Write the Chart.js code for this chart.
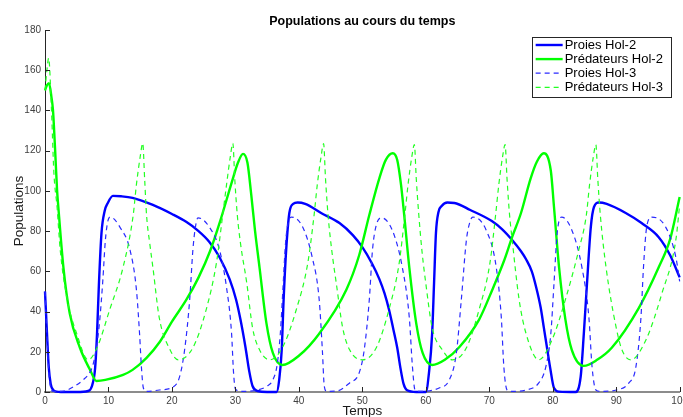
<!DOCTYPE html>
<html>
<head>
<meta charset="utf-8">
<script src="https://cdn.jsdelivr.net/npm/chart.js@4/dist/chart.umd.min.js"></script>
<style>
  html, body { margin: 0; padding: 0; background: #fff; }
  #wrap { width: 683px; height: 417px; overflow: hidden; position: relative; }
  canvas { display: block; }
</style>
</head>
<body>
<div id="wrap"><canvas id="chart" width="691" height="417"></canvas></div>
<script>
// Proies Hol-2 (trait plein bleu)
const tPreyH2 = [0, 0.3, 0.6, 0.9, 1.3, 1.8, 2.5, 5, 6.8, 7.4, 7.9, 8.2, 8.5, 8.9, 9.4, 9.9, 10.7, 12, 13.8, 17,
  20, 22.3, 24, 25.9, 27.5, 29.1, 30.1, 30.8, 31.6, 32.2, 32.7, 33.5, 35, 36.5, 36.9, 37.3, 37.6, 38.0, 38.5, 39.1,
  39.8, 41, 43.5, 46.4, 48.5, 50, 51.5, 52.7, 53.5, 54.2, 54.9, 55.5, 56.0, 56.5, 57.0, 58.5, 60, 60.5, 61.0, 61.3,
  61.6, 62.0, 62.5, 63.4, 64.5, 67, 70.4, 72, 73.6, 75, 75.8, 76.7, 77.4, 78.1, 78.6, 79.1, 79.6, 80.2, 81, 83.6,
  84.4, 84.9, 85.4, 86.0, 86.5, 87.3, 88.5, 91.5, 94, 96.7, 98.5, 100];
const preyH2 = [50, 30, 12, 4, 1, 0.2, 0, 0, 0.5, 3, 12, 29, 54, 79, 90, 94, 97.5, 97.3, 96.5, 93,
  88.5, 84.5, 80.5, 74.6, 67, 56, 46, 36, 22, 10, 3, 0.5, 0, 0, 6, 21, 46, 70.6, 89, 93.5,
  94.2, 93.5, 89, 84, 78, 72, 64, 56, 49, 41, 31, 22, 12, 4, 1, 0, 0, 9.5, 29, 54,
  79, 89.5, 92.5, 94.2, 94, 90.5, 85, 81, 75.6, 70, 66, 60, 52, 42, 32, 22, 12, 2, 0.2, 0,
  7.5, 29, 54, 82, 92, 94.2, 93.5, 89, 84, 77, 68, 57];

// Prédateurs Hol-2 (trait plein vert)
const tPredH2 = [0, 0.3, 0.63, 1.0, 1.26, 1.6, 1.9, 2.1, 2.9, 3.9, 5.5, 7.1, 8.1, 9.5, 12.3, 13.8, 16, 18.1, 20, 22.3,
  24.2, 26, 27.7, 29.4, 30.4, 31.2, 31.9, 32.5, 33.1, 33.8, 34.9, 35.9, 37.4, 40, 43.2, 47.5, 49.5, 51.1, 52.7, 53.7,
  54.8, 55.5, 56.1, 56.6, 57.4, 58.5, 59.5, 61, 63, 65.3, 68.4, 70.5, 72.3, 73.6, 75.0, 76.5, 77.5, 78.6, 79.7, 80.2,
  81.0, 82.0, 83.0, 84.9, 87, 89.3, 93.6, 96.7, 98.5, 100];
const predH2 = [150, 152.5, 153.6, 147, 140, 120, 100.5, 92, 62, 39, 22, 11, 5.5, 6, 8.5, 11, 17, 25, 35, 46,
  57, 70, 86, 104, 114, 118.4, 114, 98, 80, 62, 34, 19.4, 13.4, 18, 29, 51, 68, 88, 106.5, 115.4,
  118.7, 115.4, 103, 88, 62, 34, 19.4, 13.4, 16, 22.4, 36, 51, 65, 77, 89, 106, 114.5, 118.7, 110, 92,
  62, 36, 21, 13, 16, 22, 42, 62, 76, 97];

// Proies Hol-3 (tirets bleus)
const tPreyH3 = [0, 0.3, 0.6, 0.9, 1.3, 3, 4.5, 6, 7.1, 7.6, 8.1, 8.6, 9.1, 9.5, 9.9, 10.3, 11.8, 13.4, 14.4, 14.9,
  15.2, 15.5, 16, 18, 20.2, 21.2, 22, 22.8, 23.3, 23.7, 24.1, 25.9, 27.5, 28.6, 29.4, 29.7, 30, 31, 33.5, 35,
  35.9, 36.6, 37.1, 37.5, 37.9, 38.3, 38.8, 40.6, 42.1, 43.2, 43.7, 44, 44.4, 46, 48, 49.5, 50.3, 51.1, 51.6, 52.2,
  53, 54.7, 56.3, 57.4, 57.9, 58.3, 59, 62.1, 63.7, 64.8, 65.6, 66.4, 66.9, 67.4, 69.5, 71.1, 71.9, 72.3, 72.8, 73.5,
  75.8, 77.8, 78.9, 79.7, 80.2, 80.7, 81.4, 83, 84.6, 85.7, 86.2, 86.8, 87.5, 90, 92, 93.1, 93.9, 94.3, 94.8, 95.6,
  97.8, 99.4, 100];
const preyH3 = [50, 28, 10, 2, 0.3, 0.5, 2.6, 6, 10, 14, 22, 35, 55, 75, 85, 87, 82, 70.6, 51, 29,
  12, 2, 0.3, 1, 2.5, 7.5, 21, 46, 70.6, 82, 86.6, 82, 70.6, 52, 29, 10, 1.5, 0.3, 1, 3,
  6, 14, 30, 52, 74, 84, 87, 82, 67, 46, 21, 3, 0.3, 0.5, 4.5, 9.5, 21, 46, 70.6, 83,
  86.6, 80.6, 62, 37, 12.4, 1, 0.3, 2, 6, 19, 46, 75.6, 84, 87, 80.6, 62, 37, 12.4, 1, 0.3,
  1, 4.5, 12.4, 29, 54, 79, 87, 80.6, 62, 37, 12.4, 1, 0.3, 1, 4.5, 12.4, 37, 62, 82, 87,
  82, 67, 55];

// Prédateurs Hol-3 (tirets verts)
const tPredH3 = [0, 0.3, 0.58, 1.0, 1.4, 1.9, 2.4, 3.5, 5.0, 6.8, 8.2, 10.2, 12.3, 13.9, 14.4, 15.0, 15.4, 15.7, 16.0, 16.5,
  17.0, 18.0, 19.7, 21.0, 23.3, 25.4, 27.0, 28.0, 28.6, 29.2, 29.6, 29.9, 30.3, 30.8, 31.8, 32.7, 33.8, 35.4, 37.4, 39.6,
  41.4, 42.4, 42.9, 43.5, 43.9, 44.2, 44.6, 45.2, 45.9, 46.9, 48.0, 50.0, 52.2, 54.2, 55.8, 56.7, 57.2, 57.8, 58.2, 58.5,
  58.9, 59.4, 60.0, 61.0, 62.6, 64.2, 66.4, 68.4, 70.1, 71.0, 71.5, 72.1, 72.5, 72.8, 73.2, 73.6, 74.7, 75.8, 77.8, 79.9,
  82.0, 84.1, 85.3, 85.8, 86.4, 86.8, 87.1, 87.5, 88.4, 90.0, 90.9, 92.3, 94.7, 97.2, 99.4, 100];
const predH3 = [150, 160, 166, 142, 109, 92, 70.6, 46, 29, 16, 22, 41, 62, 88, 103, 117, 123.7, 106, 88, 74,
  62, 37, 21, 16, 22, 41, 64, 88, 103, 117, 123.7, 106, 88, 74, 54, 32, 21, 16, 22, 41,
  64, 88, 103, 117, 123.5, 106, 88, 70, 54, 32, 21, 16, 22, 41, 64, 88, 103, 117, 123, 106,
  88, 70, 54, 32, 21, 16, 22, 41, 64, 88, 103, 117, 123, 106, 88, 76, 46, 29, 16, 26,
  46, 70.6, 88, 103, 117, 123, 106, 88, 62, 32, 21, 16, 26, 49, 75.6, 93];

const seriesLabels = ["Proies Hol-2", "Prédateurs Hol-2", "Proies Hol-3", "Prédateurs Hol-3"];

const FONT = "'Liberation Sans', Arial, Helvetica, sans-serif";

// associe temps et valeurs
const toPoints = (ts, vs) => ts.map((t, i) => ({ x: t, y: vs[i] }));

// ticks vers l'intérieur, comme dans l'original
const innerTicks = {
  id: "innerTicks",
  afterDraw(chart) {
    const { ctx, chartArea, scales } = chart;
    ctx.save();
    ctx.strokeStyle = "#262626";
    ctx.lineWidth = 1;
    ctx.beginPath();
    scales.x.ticks.forEach((t) => {
      const px = Math.round(scales.x.getPixelForValue(t.value)) + 0.5;
      ctx.moveTo(px, chartArea.bottom);
      ctx.lineTo(px, chartArea.bottom - 5);
    });
    scales.y.ticks.forEach((t) => {
      const py = Math.round(scales.y.getPixelForValue(t.value)) + 0.5;
      ctx.moveTo(chartArea.left, py);
      ctx.lineTo(chartArea.left + 5, py);
    });
    ctx.stroke();
    ctx.restore();
  },
};

// légende encadrée en haut à droite
const boxLegend = {
  id: "boxLegend",
  afterDraw(chart) {
    const { ctx, chartArea } = chart;
    const w = 139, h = 60;
    const x0 = chartArea.right - 9 - w;
    const y0 = chartArea.top + 7;
    ctx.save();
    ctx.fillStyle = "#fff";
    ctx.fillRect(x0, y0, w, h);
    ctx.strokeStyle = "#262626";
    ctx.lineWidth = 1;
    ctx.strokeRect(Math.round(x0) + 0.5, Math.round(y0) + 0.5, w, h);
    ctx.font = "13px " + FONT;
    ctx.textBaseline = "middle";
    chart.data.datasets.forEach((ds, i) => {
      const y = y0 + 8 + i * 14.1;
      ctx.strokeStyle = ds.borderColor;
      ctx.lineWidth = ds.borderWidth;
      ctx.setLineDash(ds.borderDash || []);
      ctx.beginPath();
      ctx.moveTo(x0 + 4, y);
      ctx.lineTo(x0 + 31, y);
      ctx.stroke();
      ctx.setLineDash([]);
      ctx.fillStyle = "#000";
      ctx.fillText(ds.label, x0 + 33, y + 0.5);
    });
    ctx.restore();
  },
};

const ctx = document.getElementById("chart").getContext("2d");
new Chart(ctx, {
  type: "line",
  data: {
    datasets: [
      {
        label: seriesLabels[0],
        data: toPoints(tPreyH2, preyH2),
        borderColor: "#0000ff",
        borderWidth: 2.4,
        order: 3,
      },
      {
        label: seriesLabels[1],
        data: toPoints(tPredH2, predH2),
        borderColor: "#00ff00",
        borderWidth: 2.4,
        order: 2,
      },
      {
        label: seriesLabels[2],
        data: toPoints(tPreyH3, preyH3),
        borderColor: "#2a2aff",
        borderWidth: 1.2,
        borderDash: [5, 4],
        order: 1,
      },
      {
        label: seriesLabels[3],
        data: toPoints(tPredH3, predH3),
        borderColor: "#22ff22",
        borderWidth: 1.2,
        borderDash: [5, 4],
        order: 0,
      },
    ],
  },
  options: {
    responsive: false,
    animation: false,
    devicePixelRatio: 1,
    layout: { padding: 0 },
    elements: {
      point: { radius: 0 },
      line: { cubicInterpolationMode: "monotone", fill: false },
    },
    datasets: { line: { clip: 3 } },
    plugins: {
      legend: { display: false },
      tooltip: { enabled: false },
      title: {
        display: true,
        text: "Populations au cours du temps",
        fullSize: false,
        color: "#000",
        font: { family: FONT, size: 12.5, weight: "bold" },
        padding: { top: 14, bottom: 1 },
      },
    },
    scales: {
      x: {
        type: "linear",
        min: 0,
        max: 100,
        afterFit: (scale) => { scale.height = 25; },
        ticks: {
          stepSize: 10,
          color: "#404040",
          padding: 3,
          font: { family: FONT, size: 10 },
          maxRotation: 0,
        },
        grid: { drawOnChartArea: false, drawTicks: false },
        border: { color: "#8c8c8c", width: 2 },
        title: {
          display: true,
          text: "Temps",
          color: "#1a1a1a",
          font: { family: FONT, size: 13.5, lineHeight: 1 },
          padding: { top: 0, bottom: -1 },
        },
      },
      y: {
        min: 0,
        max: 180,
        afterFit: (scale) => { scale.width = 45; },
        ticks: {
          stepSize: 20,
          color: "#404040",
          padding: 4,
          font: { family: FONT, size: 10 },
        },
        grid: { drawOnChartArea: false, drawTicks: false },
        border: { color: "#262626", width: 1 },
        title: {
          display: true,
          text: "Populations",
          color: "#1a1a1a",
          font: { family: FONT, size: 13.5, lineHeight: 1 },
          padding: { top: 13, bottom: 0 },
        },
      },
    },
  },
  plugins: [innerTicks, boxLegend],
});
</script>
</body>
</html>
